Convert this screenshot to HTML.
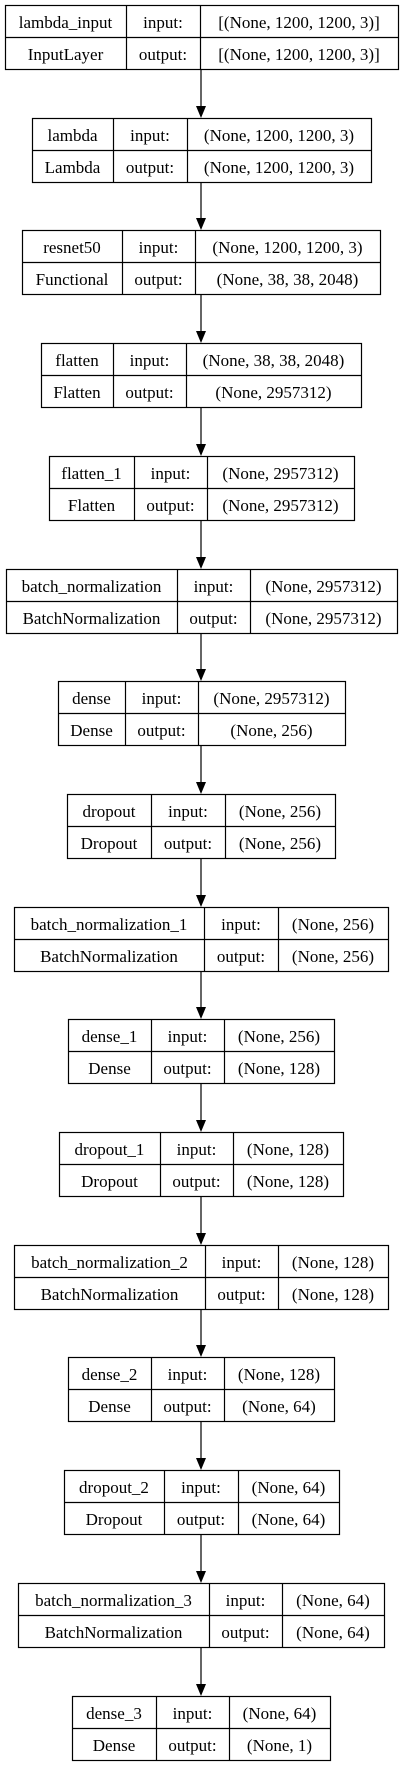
<!DOCTYPE html>
<html><head><meta charset="utf-8"><style>
html,body{margin:0;padding:0;background:#fff;}
svg{display:block;}
text{font-family:"Liberation Serif",serif;font-size:17px;fill:#000;}
</style></head><body>
<svg id="g" width="403" height="1765" viewBox="0 0 403 1765"></svg>
<script>
const layerNames=["lambda_input","lambda","resnet50","flatten","flatten_1","batch_normalization","dense","dropout","batch_normalization_1","dense_1","dropout_1","batch_normalization_2","dense_2","dropout_2","batch_normalization_3","dense_3"];
const layerTypes=["InputLayer","Lambda","Functional","Flatten","Flatten","BatchNormalization","Dense","Dropout","BatchNormalization","Dense","Dropout","BatchNormalization","Dense","Dropout","BatchNormalization","Dense"];
const inShapes=["[(None, 1200, 1200, 3)]","(None, 1200, 1200, 3)","(None, 1200, 1200, 3)","(None, 38, 38, 2048)","(None, 2957312)","(None, 2957312)","(None, 2957312)","(None, 256)","(None, 256)","(None, 256)","(None, 128)","(None, 128)","(None, 128)","(None, 64)","(None, 64)","(None, 64)"];
const outShapes=["[(None, 1200, 1200, 3)]","(None, 1200, 1200, 3)","(None, 38, 38, 2048)","(None, 2957312)","(None, 2957312)","(None, 2957312)","(None, 256)","(None, 256)","(None, 256)","(None, 128)","(None, 128)","(None, 128)","(None, 64)","(None, 64)","(None, 64)","(None, 1)"];
const colX=[[5,126,200,398],[32,113,187,371],[22,122,195,380],[41,113,186,361],[49,134,207,354],[6,177,250,397],[58,125,198,345],[67,151,225,335],[14,204,278,388],[68,151,224,334],[59,160,233,343],[14,205,278,388],[68,151,224,334],[64,164,238,339],[18,209,282,384],[72,156,229,330]];
const NS="http://www.w3.org/2000/svg";
const svg=document.getElementById('g');
const top0=5,pitch=112.7,H=64,cx=201;
function mk(t,a,p){const e=document.createElementNS(NS,t);for(const k in a)e.setAttribute(k,a[k]);(p||svg).appendChild(e);return e;}
layerNames.forEach((n,i)=>{
  const y=Math.round(top0+pitch*i);const c=colX[i];
  const g=mk('g',{});
  
  
  mk('rect',{x:c[0]+0.5,y:y+0.5,width:c[3]-c[0],height:H,fill:'#fff',stroke:'#000','stroke-width':1.2},g);
  mk('line',{x1:c[0],y1:y+32.5,x2:c[3],y2:y+32.5,stroke:'#000','stroke-width':1.2},g);
  mk('line',{x1:c[1]+0.5,y1:y,x2:c[1]+0.5,y2:y+H,stroke:'#000','stroke-width':1.2},g);
  mk('line',{x1:c[2]+0.5,y1:y,x2:c[2]+0.5,y2:y+H,stroke:'#000','stroke-width':1.2},g);
  const cells=[[n,(c[0]+c[1])/2,0],["input:",(c[1]+c[2])/2,0],[inShapes[i],(c[2]+c[3])/2,0],[layerTypes[i],(c[0]+c[1])/2,1],["output:",(c[1]+c[2])/2,1],[outShapes[i],(c[2]+c[3])/2,1]];
  cells.forEach(([t,x,r])=>{const e=mk('text',{x:x,y:y+23+r*32,'text-anchor':'middle'},g);e.textContent=t;});
  if(i<layerNames.length-1){
    const ny=Math.round(top0+pitch*(i+1));
    const a=mk('g',{});
    
    
    mk('line',{x1:cx,y1:y+H,x2:cx,y2:ny-10,stroke:'#000','stroke-width':1.2},a);
    mk('polygon',{points:`${cx-5},${ny-12} ${cx+5},${ny-12} ${cx},${ny}`,fill:'#000'},a);
  }
});
</script>
</body></html>
